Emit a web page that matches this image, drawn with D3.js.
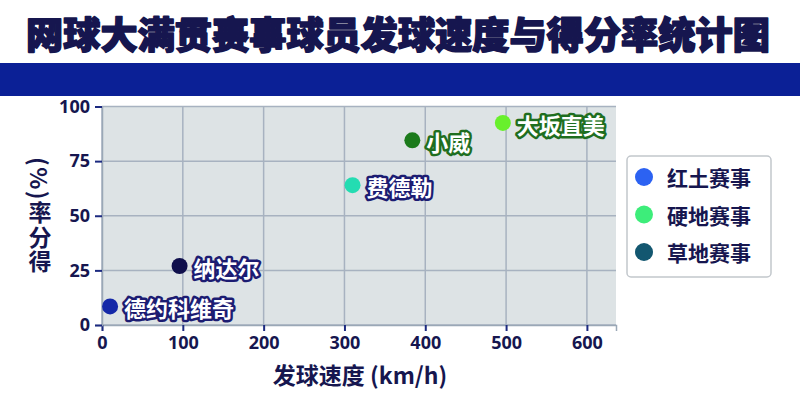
<!DOCTYPE html>
<html>
<head>
<meta charset="utf-8">
<script src="https://cdn.jsdelivr.net/npm/d3@7"></script>
<style>
  body { margin: 0; background: #fff; }
  text { font-family: "Noto Sans CJK SC", "Noto Sans", sans-serif; }
</style>
</head>
<body>
<div id="chart"></div>
<script>
// data
var players = ["德约科维奇", "纳达尔", "费德勒", "小威", "大坂直美"];
var speeds = [10, 96, 310, 384, 496];
var rates = [8.5, 27, 64, 84.5, 92.5];
var dotColors = ["#1428a8", "#0f0f4c", "#24dcb2", "#1b7a1b", "#68f02c"];
var haloColors = ["#1c1c72", "#1c1c72", "#1c1c72", "#1f6e1f", "#1f6e1f"];

var legendNames = ["红土赛事", "硬地赛事", "草地赛事"];
var legendColors = ["#2c62f2", "#3ded7a", "#135770"];

var xTicks = [0, 100, 200, 300, 400, 500, 600];
var yTicks = [0, 25, 50, 75, 100];

var W = 800, H = 400;
var navy = "#16164f";

var svg = d3.select("#chart").append("svg")
    .attr("width", W)
    .attr("height", H);

// title + blue band
svg.append("text")
    .attr("x", 398)
    .attr("y", 33)
    .attr("text-anchor", "middle")
    .attr("dominant-baseline", "central")
    .attr("font-size", 37.2)
    .attr("font-weight", 900)
    .attr("fill", navy)
    .attr("stroke", navy)
    .attr("stroke-width", 1.6)
    .attr("stroke-linejoin", "round")
    .text("网球大满贯赛事球员发球速度与得分率统计图");

svg.append("rect")
    .attr("x", 0)
    .attr("y", 63)
    .attr("width", W)
    .attr("height", 33)
    .attr("fill", "#0b2096");

var x = d3.scaleLinear().domain([0, 636]).range([102, 616]);
var y = d3.scaleLinear().domain([0, 100]).range([325, 106.5]);

// plot background
svg.append("rect")
    .attr("x", x(0))
    .attr("y", y(100))
    .attr("width", x(636) - x(0))
    .attr("height", y(0) - y(100))
    .attr("fill", "#dde3e5");

// grid
svg.append("g").selectAll("line")
    .data(xTicks).enter().append("line")
    .attr("x1", function(d) { return x(d); })
    .attr("x2", function(d) { return x(d); })
    .attr("y1", y(0))
    .attr("y2", y(100))
    .attr("stroke", "#a7b2c0")
    .attr("stroke-width", 1.5);

svg.append("g").selectAll("line")
    .data(yTicks).enter().append("line")
    .attr("x1", x(0))
    .attr("x2", x(636))
    .attr("y1", function(d) { return y(d); })
    .attr("y2", function(d) { return y(d); })
    .attr("stroke", "#a7b2c0")
    .attr("stroke-width", 1.5);

// axes
var xAxis = svg.append("g")
    .attr("transform", "translate(0," + y(0) + ")")
    .call(d3.axisBottom(x).tickValues(xTicks).tickSize(6).tickPadding(5));
var yAxis = svg.append("g")
    .attr("transform", "translate(" + x(0) + ",0)")
    .call(d3.axisLeft(y).tickValues(yTicks).tickSize(7).tickPadding(5));

[xAxis, yAxis].forEach(function(ax) {
    ax.select(".domain").attr("stroke", "#9aa8b6").attr("stroke-width", 1.5);
    ax.selectAll(".tick line").attr("stroke", "#1c2a80").attr("stroke-width", 2);
    ax.selectAll(".tick text")
        .attr("fill", navy)
        .attr("font-size", 18)
        .attr("font-weight", 700)
        .style("font-family", "'Noto Sans', 'Noto Sans CJK SC', sans-serif");
});

// axis titles
svg.append("text")
    .attr("x", 360)
    .attr("y", 374)
    .attr("text-anchor", "middle")
    .attr("dominant-baseline", "central")
    .attr("font-size", 23)
    .attr("font-weight", 700)
    .attr("fill", navy)
    .text("发球速度 (km/h)");

// y title written vertically: hanzi upright, "(%)" turned
svg.append("text")
    .attr("x", 40)
    .attr("y", 157)
    .style("writing-mode", "vertical-rl")
    .attr("font-size", 23)
    .attr("font-weight", 700)
    .attr("letter-spacing", 1.5)
    .attr("fill", navy)
    .text("(%)率分得");

// points
var pts = svg.append("g").selectAll("g")
    .data(players).enter().append("g");

pts.append("circle")
    .attr("cx", function(d, i) { return x(speeds[i]); })
    .attr("cy", function(d, i) { return y(rates[i]); })
    .attr("r", 8)
    .attr("fill", function(d, i) { return dotColors[i]; });

pts.append("text")
    .attr("x", function(d, i) { return x(speeds[i]) + 14; })
    .attr("y", function(d, i) { return y(rates[i]) + 1; })
    .attr("dominant-baseline", "central")
    .attr("font-size", 22)
    .attr("font-weight", 700)
    .attr("fill", "#fff")
    .attr("stroke", function(d, i) { return haloColors[i]; })
    .attr("stroke-width", 5)
    .attr("stroke-linejoin", "round")
    .style("paint-order", "stroke")
    .text(function(d) { return d; });

// legend
var lg = svg.append("g");
lg.append("rect")
    .attr("x", 627)
    .attr("y", 156)
    .attr("width", 144)
    .attr("height", 121)
    .attr("rx", 4)
    .attr("fill", "#fff")
    .attr("stroke", "#c2c7cc")
    .attr("stroke-width", 1.5);

var items = lg.selectAll("g")
    .data(legendNames).enter().append("g")
    .attr("transform", function(d, i) { return "translate(0," + (177 + i * 37.5) + ")"; });

items.append("circle")
    .attr("cx", 644)
    .attr("cy", 0)
    .attr("r", 9)
    .attr("fill", function(d, i) { return legendColors[i]; });

items.append("text")
    .attr("x", 667)
    .attr("y", 0)
    .attr("dominant-baseline", "central")
    .attr("font-size", 21)
    .attr("font-weight", 700)
    .attr("fill", navy)
    .text(function(d) { return d; });
</script>
</body>
</html>
